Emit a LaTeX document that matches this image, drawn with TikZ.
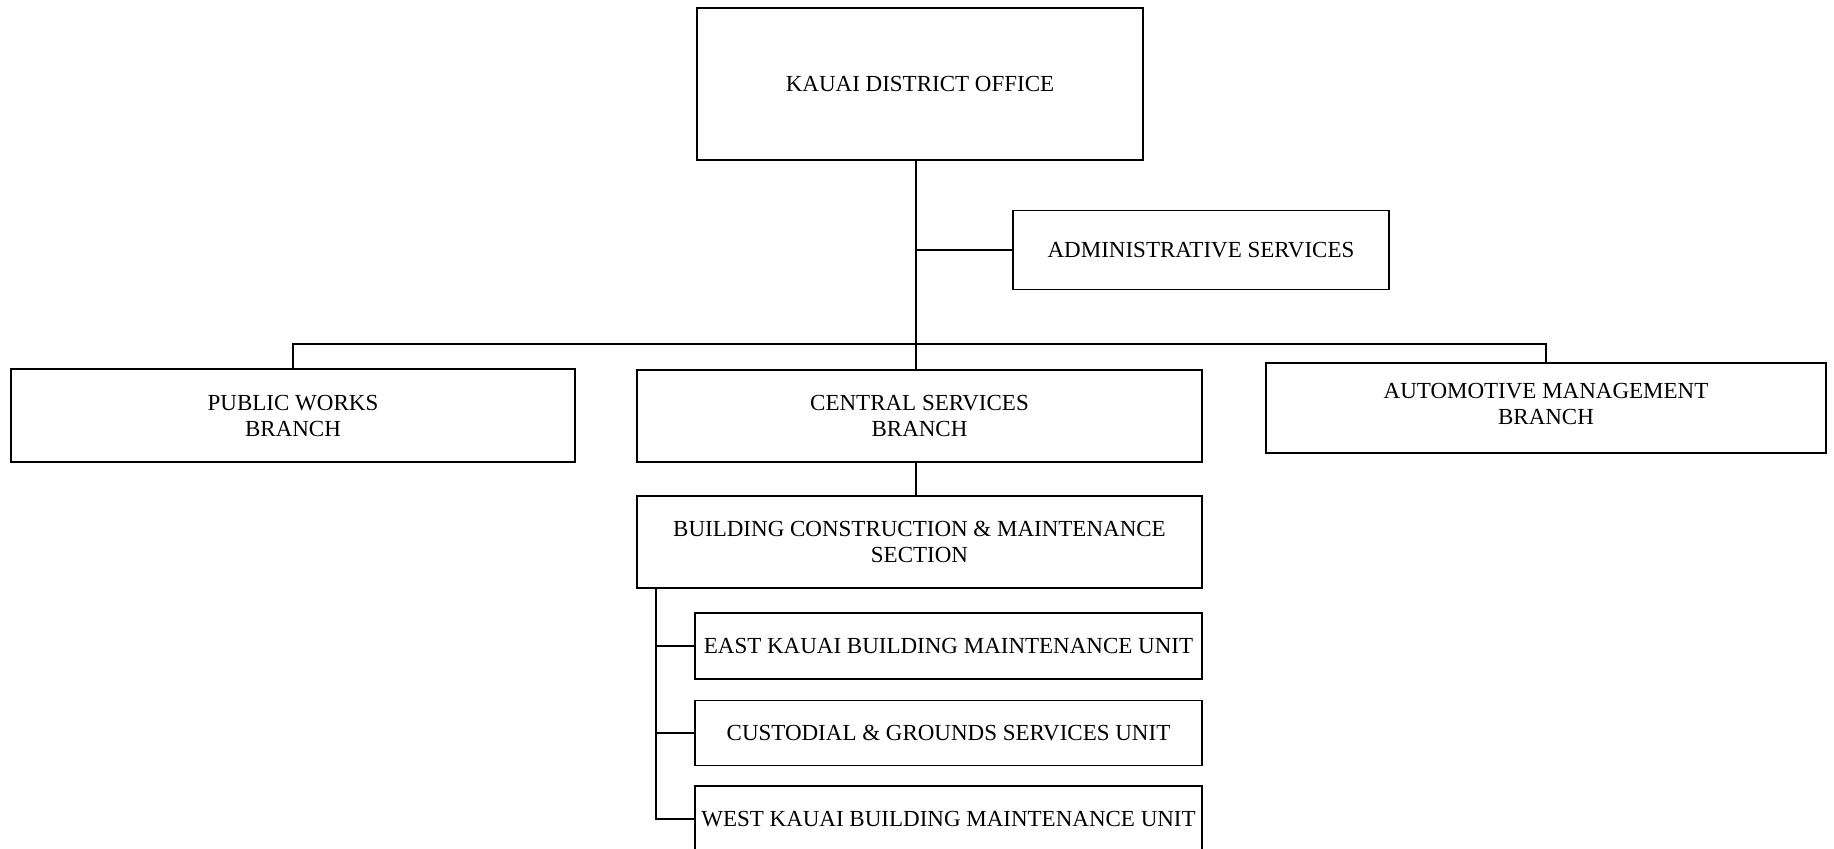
\documentclass[tikz,border=0pt]{standalone}
\usepackage{fontspec}
\setmainfont{Liberation Serif}
\begin{document}
\begin{tikzpicture}[x=0.5pt,y=-0.5pt,
  box/.style={draw, line width=0.9pt, rectangle, inner sep=0pt, align=center,
    font=\fontsize{11.5}{13}\selectfont},
  link/.style={line width=0.9pt}]
\useasboundingbox (0,0) rectangle (1834,848);
\clip (0,0) rectangle (1834,848);
% boxes
\node[box, minimum width=223pt, minimum height=76pt] (kdo) at (920,84) {KAUAI DISTRICT OFFICE};
\node[box, minimum width=188pt, minimum height=39.5pt] (admin) at (1201,250) {ADMINISTRATIVE SERVICES};
\node[box, minimum width=282pt, minimum height=46.5pt] (pw) at (293,415.5) {PUBLIC WORKS\\BRANCH};
\node[box, minimum width=282.5pt, minimum height=46pt] (cs) at (919.5,416) {CENTRAL SERVICES\\BRANCH};
\node[box, minimum width=280pt, minimum height=45pt, text depth=4pt] (am) at (1546,408) {AUTOMOTIVE MANAGEMENT\\BRANCH};
\node[box, minimum width=282.5pt, minimum height=46pt] (bcm) at (919.5,542) {BUILDING CONSTRUCTION \& MAINTENANCE\\SECTION};
\node[box, minimum width=253.5pt, minimum height=33pt] (east) at (948.5,646) {EAST KAUAI BUILDING MAINTENANCE UNIT};
\node[box, minimum width=253.5pt, minimum height=32.5pt] (cust) at (948.5,733) {CUSTODIAL \& GROUNDS SERVICES UNIT};
\node[box, minimum width=253.5pt, minimum height=33pt] (west) at (948.5,819) {WEST KAUAI BUILDING MAINTENANCE UNIT};
% connectors
\coordinate (spine) at (916,0);
\coordinate (bus) at (0,344);
\coordinate (lspine) at (656,0);
\draw[link] (kdo.south -| spine) -- (cs.north -| spine);
\draw[link] (admin.west) -- (admin.west -| spine);
\draw[link] (pw.north) -- (pw.north |- bus) -- (am.north |- bus) -- (am.north);
\draw[link] (cs.south -| spine) -- (bcm.north -| spine);
\draw[link] (bcm.south -| lspine) -- (west.west -| lspine) -- (west.west);
\draw[link] (east.west) -- (east.west -| lspine);
\draw[link] (cust.west) -- (cust.west -| lspine);
\end{tikzpicture}
\end{document}
